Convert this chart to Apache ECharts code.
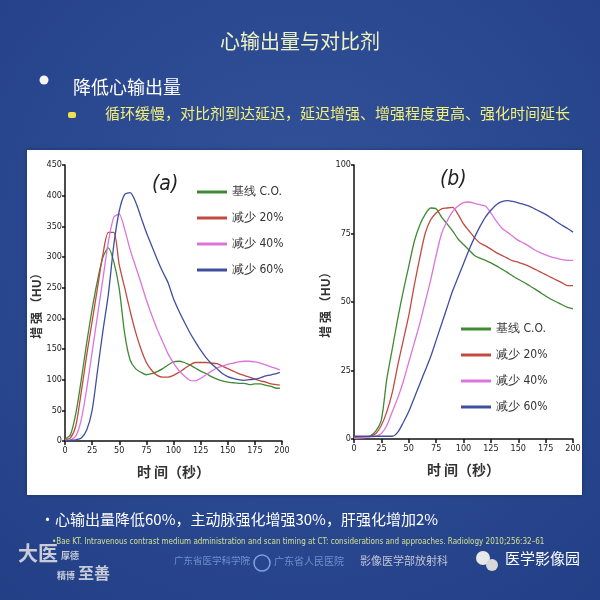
<!DOCTYPE html>
<html>
<head>
<meta charset="utf-8">
<script src="https://cdn.jsdelivr.net/npm/echarts@6/dist/echarts.min.js"></script>
<style>
  html, body { margin: 0; padding: 0; }
  #chart { width: 600px; height: 600px; }
</style>
</head>
<body>
<div id="chart"></div>
<script>
  // 时间 (秒)
  const timeA = [0, 5, 10, 15, 20, 25, 30, 35, 40, 45, 50, 55, 60, 65, 70, 75, 80, 85, 90, 95, 100,
    105, 110, 115, 120, 125, 130, 135, 140, 145, 150, 155, 160, 165, 170, 175, 180, 185, 190, 195, 198];
  const timeB = [0, 5, 10, 15, 20, 25, 30, 35, 40, 45, 50, 55, 60, 65, 70, 75, 80, 85, 90, 95, 100,
    105, 110, 115, 120, 125, 130, 135, 140, 145, 150, 155, 160, 165, 170, 175, 180, 185, 190, 195, 200];

  const seriesNames = ['基线 C.O.', '减少 20%', '减少 40%', '减少 60%'];
  const colors = ['#3f8a32', '#c24a40', '#dc74dc', '#3f4f9e'];

  // 图 (a) 主动脉增强 HU
  const aBase = [3, 10, 45, 100, 160, 215, 262, 300, 315, 292, 248, 175, 132, 118, 112, 108, 110, 113, 118, 124, 129,
    130, 128, 124, 119, 114, 110, 105, 101, 98, 96, 95, 94, 94, 92, 93, 93, 91, 89, 86, 86];
  const a20 = [2, 5, 25, 80, 140, 195, 250, 305, 340, 340, 287, 250, 212, 178, 150, 128, 115, 107, 104, 104, 107,
    112, 118, 124, 128, 128, 128, 127, 126, 122, 118, 114, 110, 107, 104, 101, 98, 96, 93, 92, 91];
  const a40 = [1, 2, 8, 35, 85, 145, 205, 265, 325, 365, 370, 345, 312, 285, 258, 230, 205, 182, 162, 142, 127,
    115, 106, 99, 98, 102, 108, 114, 119, 122, 125, 127, 129, 130, 130, 129, 127, 124, 121, 118, 116];
  const a60 = [0, 1, 2, 5, 18, 50, 115, 180, 240, 320, 375, 402, 405, 390, 365, 340, 318, 296, 276, 258, 232,
    212, 194, 177, 162, 148, 136, 126, 118, 110, 105, 102, 100, 99, 100, 101, 103, 106, 108, 110, 112];

  // 图 (b) 肝脏增强 HU
  const bBase = [0.5, 0.6, 0.8, 1.2, 3, 7, 22, 33, 44, 54, 63, 72, 78, 82, 84.3, 84, 81, 78.5, 76, 73, 71,
    69, 67, 66, 65.2, 64.3, 63.2, 62, 60.8, 59.5, 58.3, 57.2, 56, 54.8, 53.5, 52.2, 51, 50, 49, 48, 47.5];
  const b20 = [0.3, 0.5, 0.8, 1, 2, 5, 10, 17, 27, 36, 45, 56, 66, 75, 80, 82.5, 84, 84.3, 84.5, 82, 78.5,
    76, 73.5, 71.5, 70.5, 69.3, 68, 67, 66, 65, 64.5, 63.8, 63, 62, 61, 60, 59, 58, 57, 56, 56];
  const b40 = [0.2, 0.3, 0.5, 0.8, 1, 2, 5, 10, 15, 21, 28, 35, 42, 50, 58, 67, 75, 79.5, 83, 85, 86.3,
    86.5, 86, 85.5, 85, 82.5, 79.5, 77, 75.5, 74, 72.5, 71.5, 70.3, 69, 68, 67.2, 66.5, 66, 65.5, 65.2, 65.2];
  const b60 = [1, 1, 1, 1, 1, 1, 1, 1, 2.5, 6, 10, 15, 20, 25, 30, 36, 42, 48, 54, 59, 64,
    69, 73.5, 77.5, 81, 83.5, 85.5, 86.6, 87, 86.7, 86.2, 85.6, 85, 84, 83, 82, 80.7, 79.3, 78, 76.8, 75.5];

  const yTicksA = { min: 0, max: 450, interval: 50 };
  const yTicksB = { min: 0, max: 100, interval: 25 };

  function pairs(xs, ys) {
    return xs.map(function (x, i) { return [x, ys[i]]; });
  }

  const narrow = "'Liberation Sans Narrow', 'DejaVu Sans Condensed', 'Liberation Sans', sans-serif";
  const cjk = "'Noto Sans CJK SC', sans-serif";

  function xAxisOf(grid) {
    return {
      gridIndex: grid, type: 'value', min: 0, max: 200, interval: 25,
      name: '时 间（秒）', nameLocation: 'middle', nameGap: 24,
      nameTextStyle: { fontFamily: cjk, fontSize: 14, color: '#333', fontWeight: 'bold' },
      axisLine: { show: true, lineStyle: { color: '#111', width: 1.5 } },
      axisTick: { show: true, length: 4, lineStyle: { color: '#111', width: 1.5 } },
      axisLabel: { fontFamily: narrow, fontSize: 9, color: '#222', margin: 5 },
      splitLine: { show: false }
    };
  }
  function yAxisOf(grid, ticks, gap) {
    return {
      gridIndex: grid, type: 'value', min: ticks.min, max: ticks.max, interval: ticks.interval,
      name: '增 强 （HU）', nameLocation: 'middle', nameRotate: 90, nameGap: gap,
      nameTextStyle: { fontFamily: cjk, fontSize: 12, color: '#333', fontWeight: 'bold' },
      axisLine: { show: true, lineStyle: { color: '#111', width: 1.5 } },
      axisTick: { show: true, length: 3, lineStyle: { color: '#111', width: 1.5 } },
      axisLabel: { fontFamily: narrow, fontSize: 9, color: '#222', margin: 3 },
      splitLine: { show: false }
    };
  }
  function line(name, idx, grid, data) {
    return {
      name: name, type: 'line', xAxisIndex: grid, yAxisIndex: grid,
      data: data, symbol: 'none', smooth: 0.25,
      lineStyle: { color: colors[idx], width: 1.3 },
      itemStyle: { color: colors[idx] }
    };
  }

  const chart = echarts.init(document.getElementById('chart'));
  const legendBase = {
    orient: 'vertical', icon: 'rect', itemWidth: 30, itemHeight: 3, itemGap: 14, padding: 0,
    data: seriesNames, selectedMode: false,
    textStyle: { fontFamily: narrow, fontSize: 12, color: '#333' }
  };

  const option = {
    animation: false,
    backgroundColor: {
      type: 'radial', x: 0.5, y: 0.4, r: 0.8,
      colorStops: [{ offset: 0, color: '#34539a' }, { offset: 1, color: '#223f86' }]
    },
    graphic: [
      { type: 'rect', z: -10, shape: { x: 27, y: 150, width: 555, height: 345 },
        style: { fill: '#ffffff', shadowBlur: 4, shadowColor: 'rgba(0,0,0,0.3)' } },
      { type: 'text', left: 'center', top: 31,
        style: { text: '心输出量与对比剂', font: '20px ' + cjk, fill: '#eef3c4' } },
      { type: 'circle', shape: { cx: 44, cy: 80, r: 4.5 }, style: { fill: '#f4f4f4' } },
      { type: 'text', x: 73, y: 78,
        style: { text: '降低心输出量', font: '18px ' + cjk, fill: '#ffffff' } },
      { type: 'rect', shape: { x: 68, y: 112, width: 8, height: 6, r: 2 }, style: { fill: '#f0e050' } },
      { type: 'text', x: 105, y: 106,
        style: { text: '循环缓慢，对比剂到达延迟，延迟增强、增强程度更高、强化时间延长', font: '15px ' + cjk, fill: '#f2f07a' } },
      { type: 'text', x: 152, y: 174,
        style: { text: '(a)', font: 'italic 21px ' + narrow, fill: '#222' } },
      { type: 'text', x: 440, y: 169,
        style: { text: '(b)', font: 'italic 21px ' + narrow, fill: '#222' } },
      { type: 'text', x: 40, y: 512,
        style: { text: '•心输出量降低60%，主动脉强化增强30%，肝强化增加2%', font: '15px ' + cjk, fill: '#ffffff' } },
      { type: 'text', x: 52, y: 538,
        style: { text: '•Bae KT. Intravenous contrast medium administration and scan timing at CT: considerations and approaches. Radiology 2010;256:32–61',
          font: '8px ' + narrow, fill: '#cfe08e' } },
      { type: 'text', x: 18, y: 543, style: { text: '大医', font: 'bold 20px ' + cjk, fill: '#c8ccd8' } },
      { type: 'text', x: 61, y: 551, style: { text: '厚德', font: 'bold 9px ' + cjk, fill: '#c8ccd8' } },
      { type: 'text', x: 57, y: 571, style: { text: '精博', font: 'bold 9px ' + cjk, fill: '#c8ccd8' } },
      { type: 'text', x: 78, y: 565, style: { text: '至善', font: 'bold 16px ' + cjk, fill: '#c8ccd8' } },
      { type: 'text', x: 174, y: 556, style: { text: '广东省医学科学院', font: '9.5px ' + cjk, fill: '#6f8fd0' } },
      { type: 'circle', shape: { cx: 262, cy: 563, r: 8 }, style: { fill: 'none', stroke: '#7fa0e0', lineWidth: 1.5 } },
      { type: 'text', x: 274, y: 556, style: { text: '广东省人民医院', font: '10px ' + cjk, fill: '#6f8fd0' } },
      { type: 'text', x: 360, y: 555, style: { text: '影像医学部放射科', font: '11px ' + cjk, fill: '#c0c4d4' } },
      { type: 'circle', shape: { cx: 483, cy: 558, r: 7 }, style: { fill: '#e8e8e8' } },
      { type: 'circle', shape: { cx: 492, cy: 565, r: 6 }, style: { fill: '#d8d8d8' } },
      { type: 'text', x: 505, y: 551, style: { text: '医学影像园', font: '15px ' + cjk, fill: '#ffffff' } }
    ],
    legend: [
      Object.assign({ left: 197, top: 186 }, legendBase),
      Object.assign({ left: 461, top: 323 }, legendBase)
    ],
    grid: [
      { left: 65, right: 318, top: 165, bottom: 159 },
      { left: 354, right: 27, top: 165, bottom: 161 }
    ],
    xAxis: [xAxisOf(0), xAxisOf(1)],
    yAxis: [yAxisOf(0, yTicksA, 20), yAxisOf(1, yTicksB, 16)],
    series: [
      line(seriesNames[0], 0, 0, pairs(timeA, aBase)),
      line(seriesNames[1], 1, 0, pairs(timeA, a20)),
      line(seriesNames[2], 2, 0, pairs(timeA, a40)),
      line(seriesNames[3], 3, 0, pairs(timeA, a60)),
      line(seriesNames[0], 0, 1, pairs(timeB, bBase)),
      line(seriesNames[1], 1, 1, pairs(timeB, b20)),
      line(seriesNames[2], 2, 1, pairs(timeB, b40)),
      line(seriesNames[3], 3, 1, pairs(timeB, b60))
    ]
  };
  chart.setOption(option);
</script>
</body>
</html>
